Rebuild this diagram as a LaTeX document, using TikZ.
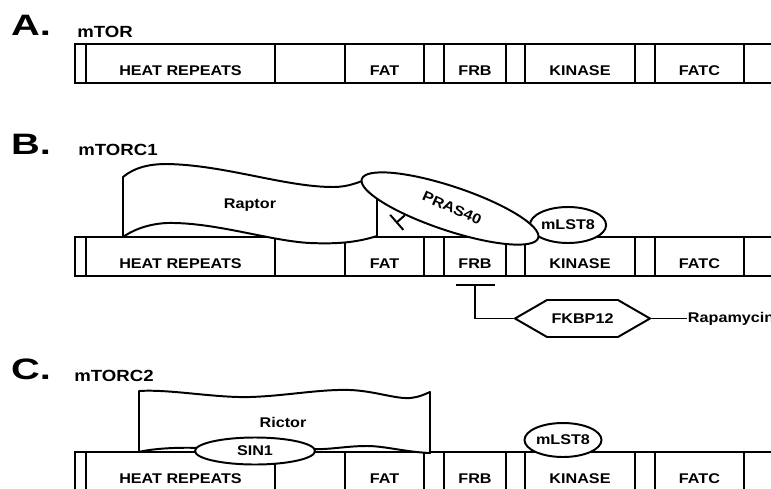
\documentclass[tikz,border=0pt]{standalone}
\usepackage{fontspec}
\setmainfont{Liberation Sans}[FakeStretch=1.15]
\newfontfamily\widefont{Liberation Sans}[FakeStretch=1.35]
\usetikzlibrary{arrows.meta,positioning,calc,shapes.geometric,shapes.symbols}

\begin{document}
\begin{tikzpicture}[
  x=0.25mm, y=-0.25mm,
  font=\bfseries\fontsize{10}{12}\selectfont,
  line width=1.4pt,
  dombox/.style={rectangle,draw,anchor=north west,inner sep=0pt,outer sep=0pt,minimum height=9.75mm},
  dname/.style={inner sep=0pt},
  panel/.style={font=\widefont\bfseries\fontsize{21}{24}\selectfont,inner sep=0pt},
  cplx/.style={font=\bfseries\fontsize{11.5}{13}\selectfont,inner sep=0pt},
  prot/.style={draw,fill=white,line join=round},
  blob/.style={ellipse,draw,fill=white,inner sep=0pt},
  hexa/.style={signal,signal to=west and east,signal pointer angle=60,draw,fill=white,inner sep=0pt,minimum width=33.75mm,minimum height=9.25mm},
  inh/.style={-{Bar[width=#1]},line cap=butt}
]
\useasboundingbox (0,0) rectangle (771,489);

% the three mTOR bars
\foreach \p/\top in {A/44,B/237,C/452}{
  \foreach \l/\r/\id in {75/86/e0,86/275/heat,275/345/g1,345/424/fat,424/444/g2,
                         444/506/frb,506/525/g3,525/635/kin,635/655/g4,655/744/fatc,744/800/g5}{
    \pgfmathsetmacro\w{(\r-\l)*0.25}
    \node[dombox,minimum width=\w mm] (\id\p) at (\l,\top) {};
  }
  \foreach \id/\txt in {heat/HEAT REPEATS,fat/FAT,frb/FRB,kin/KINASE,fatc/FATC}
    \node[dname] (t\id\p) at ([yshift=3mm]\id\p.south) {\txt};
}

% panel titles
\node[panel] (pA) at (31,25)  {A.};
\node[cplx]  (cA) at (105,32) {mTOR};
\node[panel] (pB) at (31,144) {B.};
\node[cplx]  (cB) at (118,150) {mTORC1};
\node[panel] (pC) at (31,369) {C.};
\node[cplx]  (cC) at (114,376) {mTORC2};

% mTORC1
\draw[prot] (123,237) -- (123,177) .. controls (135,167) and (150,164) .. (167,164)
  .. controls (225,165) and (285,187) .. (333,187) .. controls (352,187) and (362,180) .. (377,176)
  -- (377,236) .. controls (355,243) and (335,244) .. (310,243)
  .. controls (270,241) and (215,222) .. (167,223) .. controls (145,224) and (130,232) .. (123,237) -- cycle;
\node (raptor) at (250,205) {Raptor};
\node[blob,minimum width=18.25mm,minimum height=9mm] (lst8B) at (568,225) {mLST8};
\node[blob,minimum width=46.5mm,minimum height=11mm,rotate=-18.5] (pras) at (450,208.5) {};
\node[rotate=-24,inner sep=0pt] (prast) at (452,208) {PRAS40};
\coordinate (prasend) at (396,223);
\draw[inh=5mm] (pras.207) -- (prasend);

\node[hexa] (fkbp) at (582.5,318.5) {FKBP12};
\node[anchor=west,inner sep=0pt] (rapa) at (687,318.5) {Rapamycin};
\coordinate (frbcut) at ([yshift=-2mm]frbB.south);
\draw[inh=9.75mm] (fkbp.west) -| (frbcut);
\draw (fkbp.east) -- (rapa.west);

% mTORC2
\draw[prot] (139,452) -- (139,391) .. controls (170,389) and (215,398) .. (250,397)
  .. controls (285,396) and (320,389) .. (350,390) .. controls (375,391) and (395,399) .. (410,398)
  .. controls (420,397) and (425,394) .. (430,392) -- (430,453)
  .. controls (405,452) and (385,446) .. (367,446) .. controls (345,446) and (330,450) .. (310,449)
  -- (200,448) .. controls (175,447) and (150,449) .. (139,452) -- cycle;
\node (rictor) at (283,422) {Rictor};
\node[blob,minimum width=30mm,minimum height=6.75mm] (sin1) at (255,451) {SIN1};
\node[blob,minimum width=19.25mm,minimum height=8.5mm] (lst8C) at (563,440) {mLST8};
\end{tikzpicture}
\end{document}
